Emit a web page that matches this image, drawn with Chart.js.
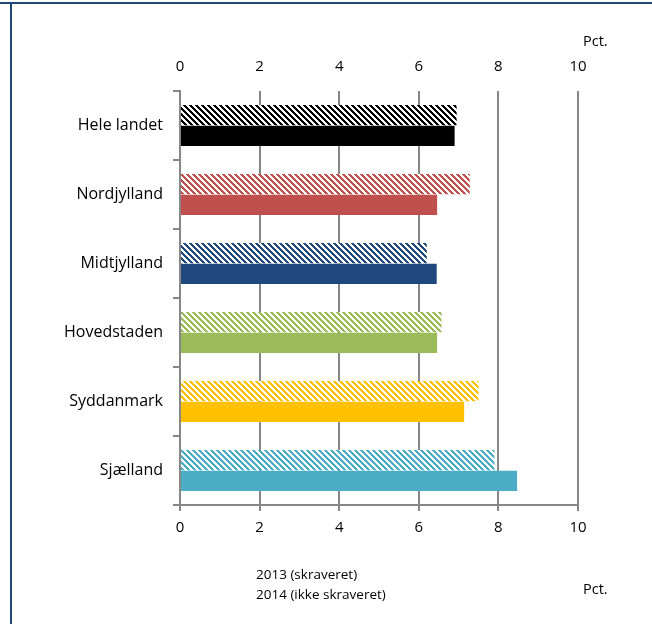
<!DOCTYPE html>
<html>
<head>
<meta charset="utf-8">
<script src="https://cdn.jsdelivr.net/npm/chart.js@4.4.1/dist/chart.umd.min.js"></script>
<style>
  body { margin: 0; background: #fff; }
  #wrap { position: relative; width: 652px; height: 624px; overflow: hidden; font-family: "Open Sans", sans-serif; color: #000; }
  #chart_elem { position: absolute; left: 0; top: 0; }
  .lbl { position: absolute; white-space: nowrap; }
  #topline { position: absolute; left: 0; top: 2px; width: 652px; height: 2px; background: #24477a; }
  #leftline { position: absolute; left: 10px; top: 2px; width: 2px; height: 622px; background: #24477a; }
</style>
</head>
<body>
<div id="wrap">
  <canvas id="chart_elem" width="652" height="624"></canvas>
  <div id="topline"></div>
  <div id="leftline"></div>
  <div class="lbl" style="left:583px; top:31px; font-size:14.5px;">Pct.</div>
  <div class="lbl" style="left:583px; top:579px; font-size:14.5px;">Pct.</div>
  <div class="lbl" style="left:256px; top:564px; font-size:13.5px; line-height:20px;">2013 (skraveret)<br>2014 (ikke skraveret)</div>
</div>
<script>
const regions = ['Hele landet', 'Nordjylland', 'Midtjylland', 'Hovedstaden', 'Syddanmark', 'Sjælland'];
const values2013 = [6.95, 7.28, 6.2, 6.57, 7.5, 7.9];
const values2014 = [6.9, 6.46, 6.45, 6.46, 7.14, 8.47];
const colors = ['#000000', '#c0504d', '#1f497d', '#9bbb59', '#ffc000', '#4bacc6'];
const tickValues = [0, 2, 4, 6, 8, 10];

// diagonal hatch, 6px period, "\" direction
const makeHatch = (color) => {
  const c = document.createElement('canvas');
  c.width = 6;
  c.height = 6;
  const g = c.getContext('2d');
  g.fillStyle = '#ffffff';
  g.fillRect(0, 0, 6, 6);
  g.fillStyle = color;
  for (let y = 0; y < 6; y++) {
    for (let x = 0; x < 6; x++) {
      if (((x - y) % 6 + 6) % 6 < 3) g.fillRect(x, y, 1, 1);
    }
  }
  return g.createPattern(c, 'repeat');
};

const canvas = document.getElementById('chart_elem');
const ctx = canvas.getContext('2d');

const gridColor = '#878787';
const tickFont = { family: 'Open Sans', size: 15 };

const data = {
  labels: regions,
  datasets: [{
    label: '2013 (skraveret)',
    data: values2013,
    backgroundColor: colors.map(makeHatch),
    borderWidth: 0,
    categoryPercentage: 0.6,
    barPercentage: 0.98
  }, {
    label: '2014 (ikke skraveret)',
    data: values2014,
    backgroundColor: colors,
    borderWidth: 0,
    categoryPercentage: 0.6,
    barPercentage: 0.98
  }]
};

const config = {
  type: 'bar',
  data,
  options: {
    indexAxis: 'y',
    responsive: false,
    animation: false,
    layout: { padding: { left: 0, right: 74, top: 48, bottom: 80 } },
    plugins: { legend: { display: false }, tooltip: { enabled: false } },
    scales: {
      x: {
        type: 'linear',
        position: 'bottom',
        min: 0,
        max: 10,
        afterBuildTicks: (s) => { s.ticks = tickValues.map(v => ({ value: v })); },
        afterFit: (s) => { s.height = 39; },
        grid: { color: gridColor, lineWidth: 2, tickLength: 6 },
        border: { color: gridColor, width: 2 },
        ticks: { color: '#000', font: tickFont, padding: 8 }
      },
      x2: {
        type: 'linear',
        position: 'top',
        min: 0,
        max: 10,
        afterBuildTicks: (s) => { s.ticks = tickValues.map(v => ({ value: v })); },
        afterFit: (s) => { s.height = 43; },
        grid: { display: false },
        border: { display: false },
        ticks: { color: '#000', font: tickFont, padding: 7 }
      },
      y: {
        type: 'category',
        afterFit: (s) => { s.width = 180; },
        grid: { drawOnChartArea: false, color: gridColor, lineWidth: 2, tickLength: 7 },
        border: { color: gridColor, width: 2 },
        ticks: { color: '#000', font: { family: 'Open Sans', size: 16 }, padding: 10 }
      }
    }
  }
};
const chart = new Chart(ctx, config);
</script>
</body>
</html>
